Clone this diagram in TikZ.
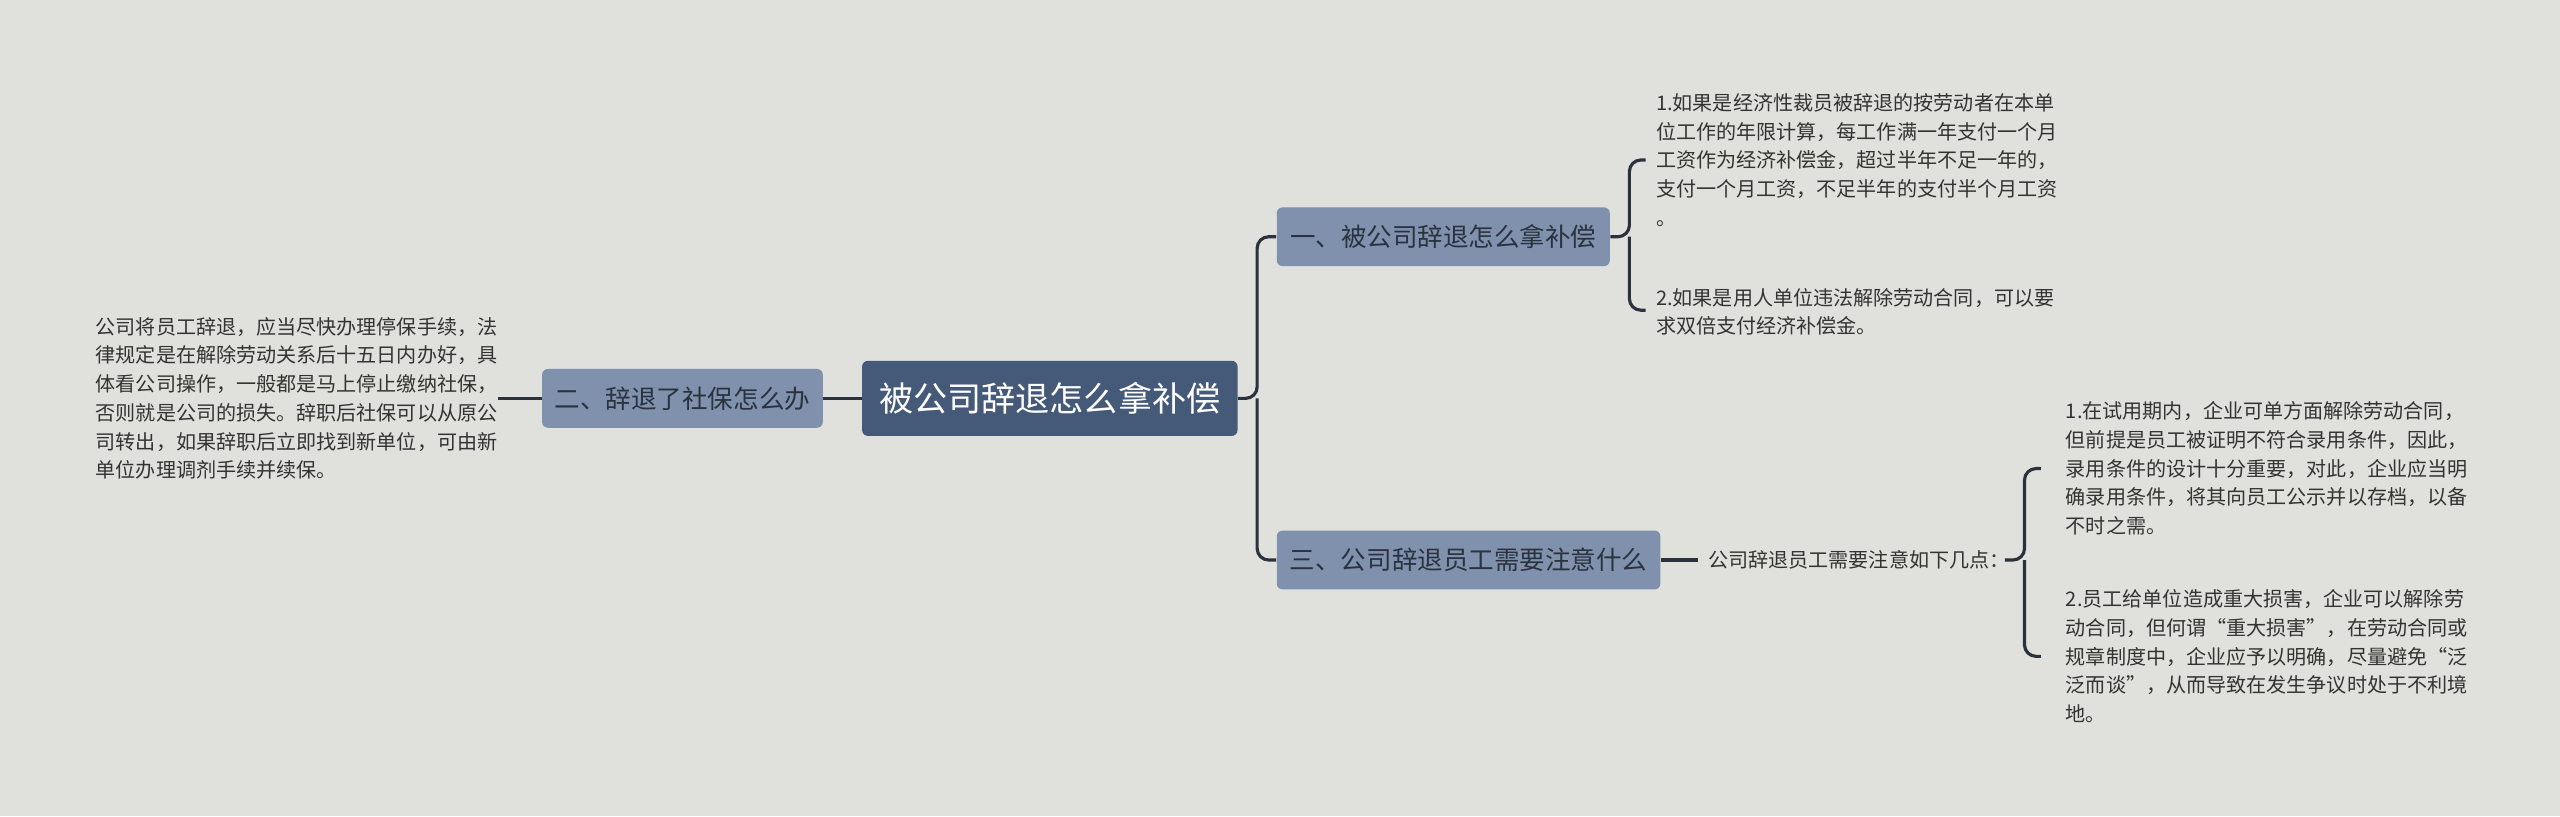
\documentclass[tikz,border=0pt]{standalone}
\usepackage{fontspec}
\setmainfont{Noto Sans CJK SC}
\usetikzlibrary{positioning}
\definecolor{bgcol}{HTML}{E0E1DD}
\definecolor{rootcol}{HTML}{455A79}
\definecolor{branchcol}{HTML}{7F91AD}
\definecolor{linecol}{HTML}{2A323D}
\definecolor{txtcol}{HTML}{333333}
\tikzset{
  rootbox/.style={fill=rootcol, text=white, rounded corners=2pt, minimum width=4.6cm, minimum height=0.92cm, font=\fontsize{11.9}{14}\selectfont},
  branchbox/.style={fill=branchcol, text=linecol, rounded corners=2pt, minimum height=0.72cm, font=\fontsize{8.9}{11}\selectfont},
  leaftext/.style={text=txtcol, align=left, inner sep=0pt, font=\fontsize{7}{10}\selectfont},
  link/.style={draw=linecol, line width=1.1pt, rounded corners=4pt}
}
\begin{document}
\begin{tikzpicture}[x=0.02cm,y=-0.02cm]
  \fill[bgcol] (0,0) rectangle (1568,500);

  \node[rootbox] (root) at (643,244) {被公司辞退怎么拿补偿};

  \node[branchbox, minimum width=4.08cm] (compensate) at (884,145) {一、被公司辞退怎么拿补偿};
  \node[branchbox, minimum width=3.44cm] (insurance) at (418,244) {二、辞退了社保怎么办};
  \node[branchbox, minimum width=4.7cm] (attention) at (899.5,343) {三、公司辞退员工需要注意什么};

  \node[leaftext, anchor=west] (leafA) at (1014,98) {1.如果是经济性裁员被辞退的按劳动者在本单\\位工作的年限计算，每工作满一年支付一个月\\工资作为经济补偿金，超过半年不足一年的，\\支付一个月工资，不足半年的支付半个月工资\\。};
  \node[leaftext, anchor=west] (leafB) at (1014,191) {2.如果是用人单位违法解除劳动合同，可以要\\求双倍支付经济补偿金。};

  \node[leaftext, anchor=east] (leafC) at (305,244) {公司将员工辞退，应当尽快办理停保手续，法\\律规定是在解除劳动关系后十五日内办好，具\\体看公司操作，一般都是马上停止缴纳社保，\\否则就是公司的损失。辞职后社保可以从原公\\司转出，如果辞职后立即找到新单位，可由新\\单位办理调剂手续并续保。};

  \node[leaftext, anchor=west] (points) at (1046,343) {公司辞退员工需要注意如下几点：};
  \node[leaftext, anchor=west] (leafD) at (1265,287) {1.在试用期内，企业可单方面解除劳动合同，\\但前提是员工被证明不符合录用条件，因此，\\录用条件的设计十分重要，对此，企业应当明\\确录用条件，将其向员工公示并以存档，以备\\不时之需。};
  \node[leaftext, anchor=west] (leafE) at (1265,402) {2.员工给单位造成重大损害，企业可以解除劳\\动合同，但何谓“重大损害”，在劳动合同或\\规章制度中，企业应予以明确，尽量避免“泛\\泛而谈”，从而导致在发生争议时处于不利境\\地。};

  % root to branches
  \draw[link] (root.east) -- (770,244) |- (compensate.west);
  \draw[link] (770,244) |- (attention.west);
  \draw[link] (root.west) -- (insurance.east);
  \draw[link] (insurance.west) -- (leafC.east);

  % first branch
  \draw[link] (compensate.east) -- (998,145) |- (1008,98);
  \draw[link] (998,145) |- (1008,190);

  % third branch
  \draw[link] (attention.east) -- (1040,343);
  \draw[link] (1228,343) -- (1240,343) |- (1250,287);
  \draw[link] (1240,343) |- (1250,402);
\end{tikzpicture}
\end{document}
